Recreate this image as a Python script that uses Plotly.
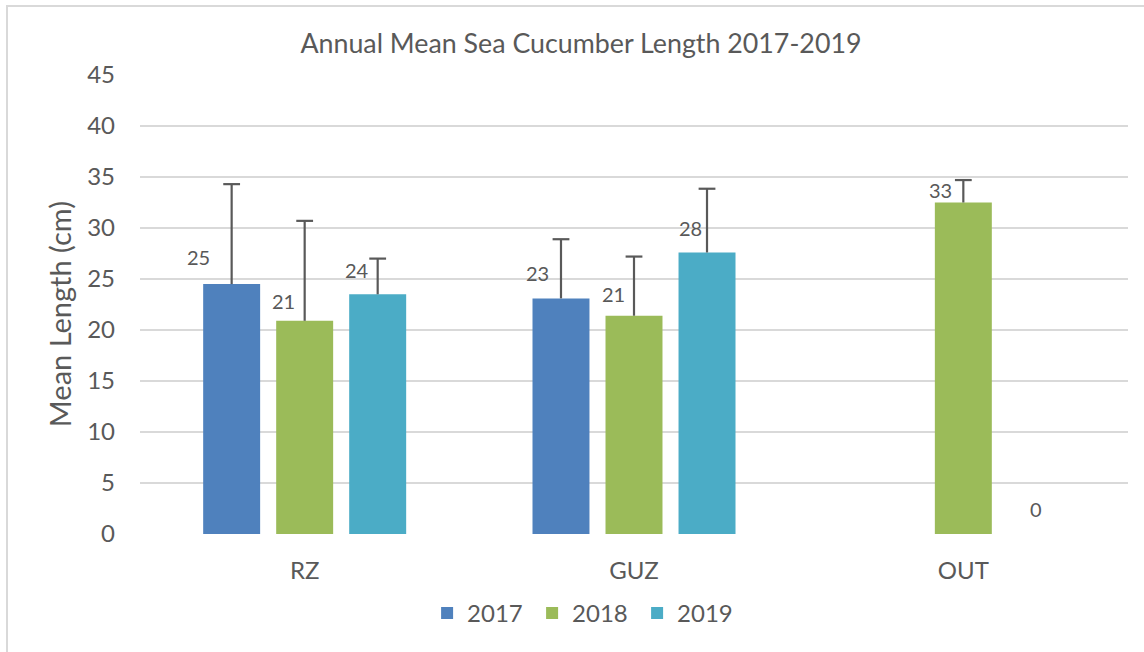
import math
import plotly.graph_objects as go

# ---- data ----
categories = ["RZ", "GUZ", "OUT"]
years = ["2017", "2018", "2019"]
mean_2017 = [24.5, 23.1, None]
mean_2018 = [20.9, 21.4, 32.5]
mean_2019 = [23.5, 27.6, 0]
err_2017 = [9.8, 5.8, None]
err_2018 = [9.8, 5.8, 2.2]
err_2019 = [3.5, 6.25, None]
y_ticks = [0, 5, 10, 15, 20, 25, 30, 35, 40, 45]

# ---- style ----
colors = ["#4F81BD", "#9BBB59", "#4BACC6"]
text_color = "#595959"
err_color = "#595959"
grid_color = "#d9d9d9"
font_family = "Lato"
bar_width = 0.173
slot = 0.2217
# label pixel offsets (dx, dy up) per series per category
label_offsets = [
    [(-33, 27), (-23, 25), None],
    [(-21, 20), (-21, 22), (-23, 13)],
    [(-21, 24), (-17, 24), (0, 25)],
]

means = [mean_2017, mean_2018, mean_2019]
errs = [err_2017, err_2018, err_2019]

fig = go.Figure()
for i, yr in enumerate(years):
    xs = [j + (i - 1) * slot for j in range(len(categories))]
    fig.add_trace(go.Bar(
        name=yr, x=xs, y=means[i], width=bar_width,
        marker=dict(color=colors[i], line=dict(width=0)),
        error_y=dict(type="data", symmetric=False, array=errs[i],
                     arrayminus=[0] * len(categories),
                     color=err_color, thickness=2.2, width=0),
        hoverinfo="x+y",
    ))
# caps of the error bars (top only)
for i in range(3):
    cx, cy = [], []
    for j in range(len(categories)):
        v, e = means[i][j], errs[i][j]
        if v is None or e is None:
            continue
        cx.append(j + (i - 1) * slot)
        cy.append(v + e)
    fig.add_trace(go.Scatter(
        x=cx, y=cy, mode="markers", showlegend=False, hoverinfo="skip",
        marker=dict(symbol="line-ew", size=12,
                    line=dict(color=err_color, width=2.2)),
    ))

annotations = []
for i in range(3):
    for j, cat in enumerate(categories):
        v = means[i][j]
        if v is None:
            continue
        dx, dy = label_offsets[i][j]
        annotations.append(dict(
            x=j + (i - 1) * slot, y=v, xref="x", yref="y",
            text=str(int(math.floor(v + 0.5))), showarrow=False,
            xshift=dx, yshift=dy, xanchor="center", yanchor="middle",
            font=dict(family=font_family, size=20, color=text_color),
        ))

annotations.append(dict(
    x=(59 - 140) / 988, y=(533.7 - 314) / 458.7, xref="paper", yref="paper",
    text="Mean Length (cm)", textangle=-90, showarrow=False,
    xanchor="center", yanchor="middle",
    font=dict(family=font_family, size=29, color=text_color),
))

fig.update_layout(
    width=1144, height=652,
    margin=dict(l=140, r=16, t=75, b=118.3),
    paper_bgcolor="white", plot_bgcolor="white",
    barmode="overlay",
    title=dict(text="Annual Mean Sea Cucumber Length 2017-2019",
               x=581 / 1144, xref="container", xanchor="center",
               y=1 - 44 / 652, yref="container", yanchor="middle",
               font=dict(family=font_family, size=26.8, color=text_color)),
    font=dict(family=font_family, color=text_color),
    showlegend=True,
    legend=dict(orientation="h", x=0.450, xanchor="center",
                y=(533.7 - 613) / 458.7, yanchor="middle",
                entrywidth=60, entrywidthmode="pixels",
                font=dict(family=font_family, size=24, color=text_color),
                traceorder="normal"),
    annotations=annotations,
    shapes=[dict(type="rect", xref="paper", yref="paper",
                 x0=(7 - 140) / 988, x1=1.2, y0=-0.5, y1=(533.7 - 6) / 458.7,
                 line=dict(color=grid_color, width=2), layer="below")],
)
fig.update_xaxes(range=[-0.5, len(categories) - 0.5],
                 tickvals=list(range(len(categories))), ticktext=categories,
                 showline=False, showgrid=False, zeroline=False, ticks="",
                 tickfont=dict(family=font_family, size=24, color=text_color),
                 ticklabelstandoff=20)
fig.update_yaxes(range=[0, 45], tickvals=y_ticks, showgrid=True,
                 gridcolor=grid_color, gridwidth=1.6, zeroline=False,
                 showline=False, ticks="",
                 tickfont=dict(family=font_family, size=24, color=text_color),
                 ticklabelstandoff=24)

fig.write_html("out.html", config={"displayModeBar": False},
               post_script="document.body.style.margin='0';")
